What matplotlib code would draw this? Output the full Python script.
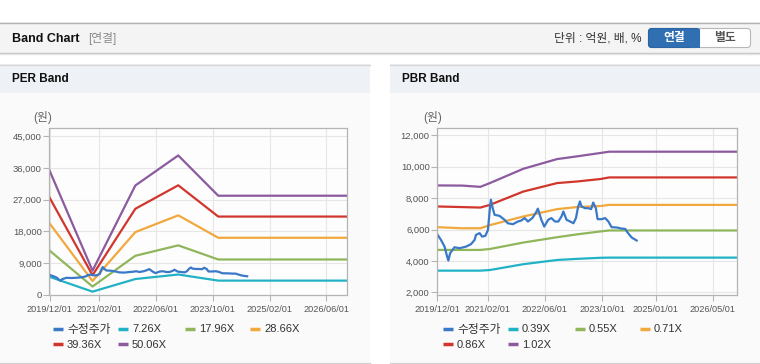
import matplotlib
matplotlib.use("Agg")
import matplotlib.pyplot as plt
import matplotlib.dates as mdates
from matplotlib.patches import Rectangle, FancyBboxPatch
from matplotlib.ticker import FuncFormatter, FixedLocator
import pandas as pd

plt.rcParams['font.family'] = ['Liberation Sans', 'Noto Sans CJK KR']

# ---------------- data ----------------
price_dates = ["2019-12-04", "2020-01-01", "2020-02-01", "2020-02-19", "2020-03-04", "2020-03-19",
               "2020-04-25", "2020-06-07", "2020-08-01", "2020-09-13", "2020-10-13", "2020-10-25",
               "2020-11-25", "2020-12-16", "2021-01-13", "2021-02-04", "2021-02-19", "2021-03-01",
               "2021-03-16", "2021-04-01", "2021-05-13", "2021-06-25", "2021-07-22", "2021-09-04",
               "2021-10-16", "2021-11-13", "2021-12-13", "2022-01-10", "2022-02-16", "2022-03-16",
               "2022-04-04", "2022-05-04", "2022-05-28", "2022-07-01", "2022-07-28", "2022-08-28",
               "2022-09-25", "2022-10-22", "2022-11-07", "2022-12-04", "2023-01-04", "2023-02-01",
               "2023-02-22", "2023-03-13", "2023-03-28", "2023-04-10", "2023-05-10", "2023-06-07",
               "2023-07-01", "2023-07-19", "2023-08-10", "2023-08-25", "2023-09-28", "2023-10-28",
               "2023-11-25", "2023-12-22", "2024-02-04", "2024-03-16", "2024-04-16", "2024-05-07",
               "2024-06-10", "2024-07-22"]
price_vals = [5660, 5340, 4910, 4380, 4020, 4490,
              4870, 4810, 4910, 5070, 5340, 5660,
              5770, 5550, 5600, 5980, 7260, 7900,
              7360, 6940, 6870, 6620, 6400, 6340,
              6510, 6570, 6730, 6510, 6730, 7040,
              7330, 6620, 6190, 6620, 6730, 6510,
              6510, 6830, 7150, 6620, 6510, 6400,
              6730, 7470, 7790, 7470, 7360, 7360,
              7300, 7720, 7360, 6660, 6660, 6730,
              6510, 6150, 6130, 6060, 6040, 5800,
              5490, 5300]

per_dates = ["2019-12-01", "2020-12-04", "2021-12-06", "2022-12-09", "2023-11-17", "2026-12-01"]
per_labels = ["7.26X", "17.96X", "28.66X", "39.36X", "50.06X"]
per_726 = [5150, 950, 4520, 5800, 4070, 4070]
per_1796 = [12600, 2400, 11100, 14050, 10050, 10050]
per_2866 = [20300, 3950, 17800, 22550, 16200, 16200]
per_3936 = [27600, 5600, 24400, 31050, 22200, 22200]
per_5006 = [35250, 6900, 31000, 39500, 28100, 28100]

pbr_dates = ["2019-12-01", "2020-07-01", "2020-12-01", "2021-02-20", "2021-12-01", "2022-09-15",
             "2023-03-01", "2023-09-20", "2023-12-01", "2026-12-01"]
pbr_labels = ["0.39X", "0.55X", "0.71X", "0.86X", "1.02X"]
pbr_039 = [3380, 3380, 3380, 3420, 3790, 4060, 4130, 4200, 4210, 4210]
pbr_055 = [4700, 4700, 4700, 4760, 5170, 5510, 5690, 5880, 5940, 5940]
pbr_071 = [6150, 6080, 6080, 6280, 6830, 7300, 7430, 7500, 7570, 7570]
pbr_086 = [7470, 7430, 7400, 7570, 8420, 8960, 9060, 9220, 9320, 9320]
pbr_102 = [8810, 8800, 8720, 8960, 9870, 10490, 10660, 10880, 10960, 10960]

per_xticks = ["2019-12-01", "2021-02-01", "2022-06-01", "2023-10-01", "2025-02-01", "2026-06-01"]
pbr_xticks = ["2019-12-01", "2021-02-01", "2022-06-01", "2023-10-01", "2025-01-01", "2026-05-01"]
per_yticks = [0, 9000, 18000, 27000, 36000, 45000]
pbr_yticks = [2000, 4000, 6000, 8000, 10000, 12000]

price_label = "수정주가"

# ---------------- style ----------------
C_PRICE = "#3a78c8"
BAND_COLORS = ["#22b2c6", "#8fb65a", "#f1a83c", "#d1362c", "#8c5a9e"]

W, H = 760, 364
fig = plt.figure(figsize=(W / 100, H / 100), dpi=100)
fig.patch.set_facecolor("white")

bg = fig.add_axes([0, 0, 1, 1], zorder=-10)
bg.set_xlim(0, W)
bg.set_ylim(H, 0)
bg.axis("off")

# header bar
bg.add_patch(Rectangle((0, 22), W, 31, fc="#f4f4f4", ec="none"))
bg.plot([0, W], [22.5, 22.5], color="#b3b3b3", lw=1)
bg.plot([0, W], [53, 53], color="#c4c4c4", lw=1)
bg.plot([0, W], [54, 54], color="#e4e4e4", lw=1)
bg.text(12, 38.5, "Band Chart", fontsize=9, fontweight="bold", color="#111111", va="center", ha="left")
bg.text(88, 38.5, "[연결]", fontsize=8.5, color="#8a8a8a", va="center", ha="left")
bg.text(641, 38.5, "단위 : 억원, 배, %", fontsize=8.5, color="#333333", va="center", ha="right")
bg.add_patch(FancyBboxPatch((648.5, 28.5), 102, 19, boxstyle="round,pad=0,rounding_size=3",
                            fc="white", ec="#b8b8b8", lw=0.8))
bg.add_patch(FancyBboxPatch((648.5, 28.5), 51, 19, boxstyle="round,pad=0,rounding_size=3",
                            fc="#2f6fb2", ec="#2a64a2", lw=0.8))
bg.add_patch(Rectangle((690, 28.5), 10, 19, fc="#2f6fb2", ec="none"))
bg.text(674, 38.5, "연결", fontsize=8.5, fontweight="bold", color="white", va="center", ha="center")
bg.text(725, 38.5, "별도", fontsize=8.5, fontweight="bold", color="#555555", va="center", ha="center")

# panels
for x0, title in [(0, "PER Band"), (390, "PBR Band")]:
    bg.add_patch(Rectangle((x0, 64), 370, 29, fc="#eef1f6", ec="none"))
    bg.add_patch(Rectangle((x0, 93), 370, 269, fc="#fafafa", ec="none"))
    bg.plot([x0, x0 + 370], [64.5, 64.5], color="#d6d6d6", lw=1)
    bg.plot([x0, x0 + 370], [362.5, 362.5], color="#d2d2d2", lw=1)
    bg.text(x0 + 12, 79.5, title, fontsize=8.5, fontweight="bold", color="#111111", va="center", ha="left")
    bg.text(x0 + 33, 118, "(원)", fontsize=8.5, color="#666666", va="center", ha="left")


def style_axis(ax, xticks, yticks, ylim):
    ax.set_facecolor("#fdfdfd")
    for s in ax.spines.values():
        s.set_color("#b4b4b4")
        s.set_linewidth(0.9)
    ax.set_xlim(pd.Timestamp("2019-12-01"), pd.Timestamp("2026-11-25"))
    ax.set_ylim(*ylim)
    ax.xaxis.set_major_locator(FixedLocator(mdates.date2num(pd.to_datetime(xticks))))
    ax.xaxis.set_major_formatter(mdates.DateFormatter("%Y/%m/%d"))
    ax.yaxis.set_major_locator(FixedLocator(yticks))
    ax.yaxis.set_major_formatter(FuncFormatter(lambda v, p: f"{v:,.0f}"))
    ax.grid(True, color="#e6e6e6", lw=0.8)
    ax.set_axisbelow(True)
    ax.tick_params(axis="both", length=4, width=0.8, color="#b4b4b4", labelcolor="#555555")
    ax.tick_params(axis="y", labelsize=6.8, pad=1.5)
    ax.tick_params(axis="x", labelsize=6.6, pad=3)


def draw_legend(x_cols, labels):
    items = [(price_label, C_PRICE)] + list(zip(labels, BAND_COLORS))
    for i, (lab, col) in enumerate(items):
        r, c = divmod(i, 4)
        x = x_cols[c]
        y = 329 + 15 * r
        bg.plot([x, x + 10], [y, y], color=col, lw=2.5, solid_capstyle="butt")
        fs = 8.5 if lab == price_label else 8
        bg.text(x + 14, y + 0.5, lab, fontsize=fs, color="#333333", va="center", ha="left")


# PER chart
ax1 = fig.add_axes([49.5 / W, (H - 295) / H, 297.5 / W, 167 / H])
style_axis(ax1, per_xticks, per_yticks, (0, 47270))
pd_per = pd.to_datetime(per_dates)
for vals, col in zip([per_726, per_1796, per_2866, per_3936, per_5006], BAND_COLORS):
    ax1.plot(pd_per, vals, color=col, lw=1.6, solid_joinstyle="round")
ax1.plot(pd.to_datetime(price_dates), price_vals, color=C_PRICE, lw=1.6)
draw_legend([53, 118, 185, 250], per_labels)

# PBR chart
ax2 = fig.add_axes([437.3 / W, (H - 295) / H, 300 / W, 167 / H])
style_axis(ax2, pbr_xticks, pbr_yticks, (1828, 12470))
pd_pbr = pd.to_datetime(pbr_dates)
for vals, col in zip([pbr_039, pbr_055, pbr_071, pbr_086, pbr_102], BAND_COLORS):
    ax2.plot(pd_pbr, vals, color=col, lw=1.6, solid_joinstyle="round")
ax2.plot(pd.to_datetime(price_dates), price_vals, color=C_PRICE, lw=1.6)
draw_legend([443, 508, 575, 640], pbr_labels)

fig.savefig("out.png", dpi=100)
